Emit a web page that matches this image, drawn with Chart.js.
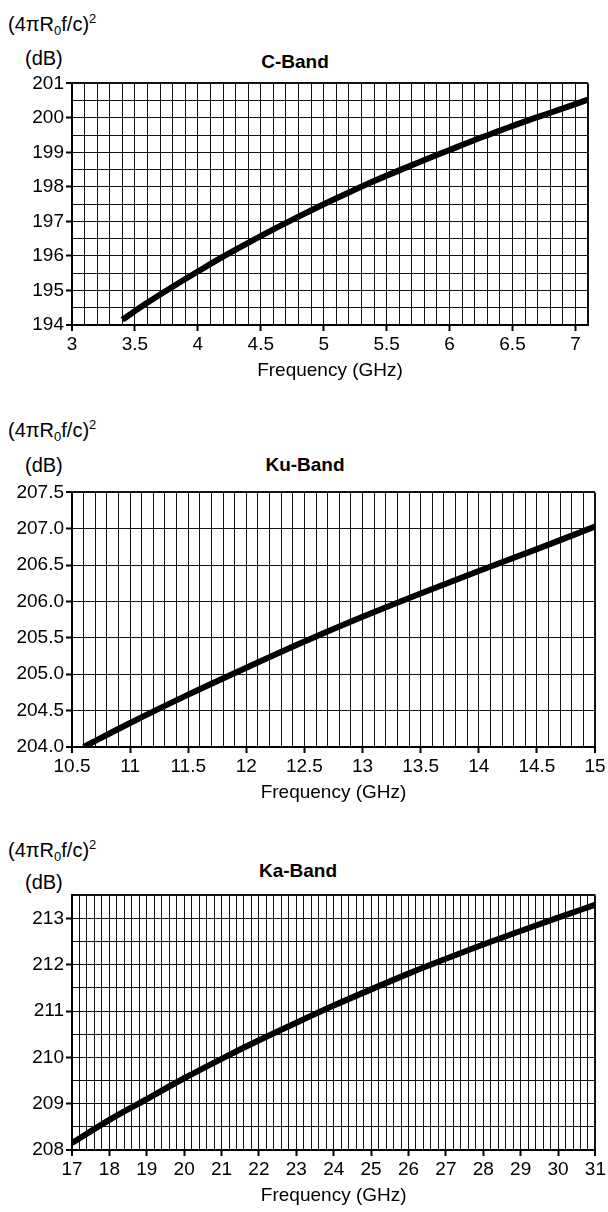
<!DOCTYPE html>
<html>
<head>
<meta charset="utf-8">
<script src="https://cdn.jsdelivr.net/npm/chart.js@4.4.0/dist/chart.umd.min.js"></script>
<style>
body { margin:0; background:#fff; width:608px; height:1212px; position:relative; overflow:hidden;
       font-family:"Liberation Sans", Arial, sans-serif; color:#000; }
.lbl { position:absolute; font-size:20px; line-height:22px; white-space:nowrap; }
.lbl sub, .lbl sup { font-size:13px; line-height:0; position:relative; vertical-align:baseline; }
.lbl sub { top:4px; }
.lbl sup { top:-8px; }
.ttl { position:absolute; font-size:19px; font-weight:bold; white-space:nowrap; transform:translate(-50%,-50%); }
canvas { position:absolute; left:0; }
</style>
</head>
<body>

<div class="lbl" style="left:8px;top:13px">(4&pi;R<sub>0</sub>f/c)<sup>2</sup></div>
<div class="lbl" style="left:25px;top:47px">(dB)</div>
<div class="ttl" style="left:295px;top:62px">C-Band</div>
<canvas id="cBand" width="608" height="312" style="top:70px"></canvas>

<div class="lbl" style="left:8px;top:419px">(4&pi;R<sub>0</sub>f/c)<sup>2</sup></div>
<div class="lbl" style="left:25px;top:454px">(dB)</div>
<div class="ttl" style="left:305px;top:465px">Ku-Band</div>
<canvas id="kuBand" width="608" height="325" style="top:479px"></canvas>

<div class="lbl" style="left:8px;top:839px">(4&pi;R<sub>0</sub>f/c)<sup>2</sup></div>
<div class="lbl" style="left:25px;top:871px">(dB)</div>
<div class="ttl" style="left:298px;top:871px">Ka-Band</div>
<canvas id="kaBand" width="608" height="325" style="top:882px"></canvas>

<script>
// C-Band
const cFreq = [3.4, 3.6, 3.8, 4.0, 4.2, 4.4, 4.6, 4.8, 5.0, 5.2, 5.4, 5.6, 5.8, 6.0, 6.2, 6.4, 6.6, 6.8, 7.0, 7.1];
const cLoss = [194.15, 194.65, 195.11, 195.55, 195.98, 196.38, 196.77, 197.14, 197.5, 197.84, 198.17, 198.48, 198.78, 199.07, 199.36, 199.63, 199.9, 200.15, 200.4, 200.53];
const cXLabels = ['3', '3.5', '4', '4.5', '5', '5.5', '6', '6.5', '7'];
const cYLabels = ['194', '195', '196', '197', '198', '199', '200', '201'];

// Ku-Band
const kuFreq = [10.6, 11.0, 11.5, 12.0, 12.5, 13.0, 13.5, 14.0, 14.5, 15.0];
const kuLoss = [204.0, 204.33, 204.72, 205.09, 205.45, 205.79, 206.11, 206.42, 206.72, 207.03];
const kuXLabels = ['10.5', '11', '11.5', '12', '12.5', '13', '13.5', '14', '14.5', '15'];
const kuYLabels = ['204.0', '204.5', '205.0', '205.5', '206.0', '206.5', '207.0', '207.5'];

// Ka-Band
const kaFreq = [17, 18, 19, 20, 21, 22, 23, 24, 25, 26, 27, 28, 29, 30, 31];
const kaLoss = [208.15, 208.65, 209.1, 209.55, 209.97, 210.37, 210.75, 211.12, 211.47, 211.81, 212.13, 212.44, 212.73, 213.02, 213.3];
const kaXLabels = ['17', '18', '19', '20', '21', '22', '23', '24', '25', '26', '27', '28', '29', '30', '31'];
const kaYLabels = ['208', '209', '210', '211', '212', '213'];

const FONT = '"Liberation Sans", Arial, sans-serif';

function gridSteps(min, max, step) {
    const out = [];
    const n = Math.round((max - min) / step);
    for (let i = 0; i <= n; i++) out.push(Math.round((min + i * step) * 1e6) / 1e6);
    return out;
}

function findLabel(labels, v) {
    const hit = labels.find(l => Math.abs(Number(l) - v) < 1e-6);
    return hit === undefined ? null : hit;
}

function axis(min, max, step, labels, isX, size) {
    return {
        type: 'linear',
        min: min,
        max: max,
        afterBuildTicks: s => { s.ticks = gridSteps(min, max, step).map(v => ({ value: v })); },
        afterFit: s => { if (isX) s.height = size; else s.width = size; },
        border: { display: true, color: '#000', width: 2 },
        grid: {
            color: '#111',
            lineWidth: c => (c.tick && (Math.abs(c.tick.value - max) < 1e-6 || Math.abs(c.tick.value - min) < 1e-6)) ? 2 : 1,
            tickLength: 6,
            tickColor: c => (c.tick && findLabel(labels, c.tick.value) !== null) ? '#000' : 'rgba(0,0,0,0)',
            tickWidth: 2
        },
        ticks: {
            autoSkip: false,
            maxRotation: 0,
            padding: 2,
            color: '#000',
            font: { family: FONT, size: 19 },
            callback: v => findLabel(labels, v) || ''
        },
        title: isX ? {
            display: true,
            text: 'Frequency (GHz)',
            color: '#000',
            font: { family: FONT, size: 19 },
            padding: 0
        } : { display: false }
    };
}

function makeChart(id, freq, loss, x, y, padRight) {
    new Chart(document.getElementById(id), {
        type: 'line',
        data: {
            datasets: [{
                data: freq.map((f, i) => ({ x: f, y: loss[i] })),
                borderColor: '#000',
                borderWidth: 6,
                pointRadius: 0,
                cubicInterpolationMode: 'monotone',
                fill: false
            }]
        },
        options: {
            responsive: false,
            animation: false,
            layout: { padding: { top: 11, right: padRight, left: 0, bottom: 0 } },
            scales: {
                x: axis(x.min, x.max, x.step, x.labels, true, 57),
                y: axis(y.min, y.max, y.step, y.labels, false, 72)
            },
            plugins: {
                legend: { display: false },
                tooltip: { enabled: false }
            }
        }
    });
}

makeChart('cBand', cFreq, cLoss,
    { min: 3, max: 7.1, step: 0.1, labels: cXLabels },
    { min: 194, max: 201, step: 0.5, labels: cYLabels }, 20);

makeChart('kuBand', kuFreq, kuLoss,
    { min: 10.5, max: 15, step: 0.1, labels: kuXLabels },
    { min: 204, max: 207.5, step: 0.5, labels: kuYLabels }, 13);

makeChart('kaBand', kaFreq, kaLoss,
    { min: 17, max: 31, step: 0.2, labels: kaXLabels },
    { min: 208, max: 213.5, step: 0.5, labels: kaYLabels }, 10);
</script>
</body>
</html>
